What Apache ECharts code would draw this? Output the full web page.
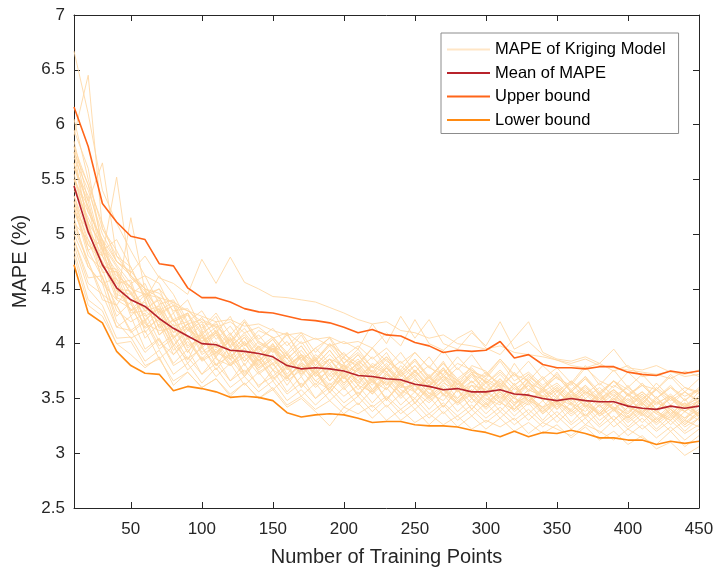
<!DOCTYPE html>
<html><head><meta charset="utf-8">
<script src="https://cdn.jsdelivr.net/npm/echarts@6/dist/echarts.min.js"></script>
<style>html,body{margin:0;padding:0;background:#fff}#c{width:716px;height:575px}</style>
</head><body><div id="c"></div>
<script>
const xCategories = [10,20,30,40,50,60,70,80,90,100,110,120,130,140,150,160,170,180,190,200,210,220,230,240,250,260,270,280,290,300,310,320,330,340,350,360,370,380,390,400,410,420,430,440,450];
const xTickLabels = [50,100,150,200,250,300,350,400,450];
const yTickLabels = [2.5,3,3.5,4,4.5,5,5.5,6,6.5,7];

const meanMAPE = [5.44,5.02,4.72,4.51,4.40,4.34,4.23,4.14,4.07,4.00,3.99,3.94,3.93,3.91,3.88,3.80,3.77,3.78,3.77,3.75,3.71,3.70,3.68,3.67,3.63,3.61,3.58,3.59,3.56,3.56,3.58,3.54,3.53,3.50,3.48,3.50,3.48,3.47,3.47,3.43,3.41,3.40,3.43,3.41,3.43];
const upperBound = [6.16,5.80,5.28,5.11,4.98,4.95,4.73,4.71,4.51,4.42,4.42,4.38,4.32,4.29,4.28,4.25,4.22,4.21,4.19,4.15,4.10,4.13,4.08,4.07,4.01,3.98,3.92,3.94,3.93,3.94,4.02,3.87,3.90,3.81,3.78,3.78,3.77,3.79,3.79,3.74,3.72,3.71,3.75,3.73,3.75];
const lowerBound = [4.72,4.28,4.19,3.93,3.80,3.73,3.72,3.57,3.61,3.59,3.56,3.51,3.52,3.51,3.48,3.37,3.33,3.35,3.36,3.35,3.32,3.28,3.29,3.29,3.26,3.25,3.25,3.24,3.21,3.19,3.15,3.20,3.15,3.19,3.18,3.21,3.18,3.14,3.14,3.12,3.12,3.08,3.11,3.09,3.11];

const run01 = [6.67,6.10,5.40,5.10,4.85,4.62,4.55,4.28,4.40,4.12,4.25,3.98,4.20,4.02,3.92,4.10,3.85,3.96,4.05,3.82,3.95,3.78,3.92,3.70,3.86,3.68,3.84,3.62,3.80,3.75,3.60,3.82,3.64,3.58,3.74,3.56,3.70,3.52,3.66,3.58,3.48,3.64,3.50,3.60,3.54];
const run02 = [5.90,6.45,5.05,4.85,4.60,4.48,4.30,4.38,4.12,4.20,3.96,4.10,3.88,4.02,3.95,3.78,3.90,3.72,3.86,3.80,3.66,3.82,3.74,3.60,3.76,3.58,3.70,3.64,3.52,3.68,3.60,3.50,3.66,3.48,3.58,3.44,3.56,3.50,3.40,3.54,3.46,3.36,3.52,3.42,3.48];
const run03 = [5.60,5.30,5.65,4.80,4.70,4.42,4.50,4.20,4.28,3.98,4.10,3.92,4.06,3.84,3.98,3.90,3.72,3.88,3.66,3.80,3.74,3.62,3.78,3.68,3.56,3.70,3.58,3.50,3.66,3.54,3.62,3.46,3.58,3.52,3.42,3.56,3.48,3.38,3.52,3.44,3.36,3.50,3.40,3.32,3.46];
const run04 = [5.20,4.90,4.80,5.52,4.62,4.50,4.28,4.35,4.05,4.18,3.90,4.08,3.96,3.82,4.00,3.76,3.88,3.70,3.82,3.64,3.78,3.66,3.58,3.74,3.62,3.52,3.68,3.56,3.62,3.48,3.60,3.50,3.44,3.58,3.46,3.40,3.54,3.42,3.50,3.36,3.48,3.38,3.30,3.44,3.36];
const run05 = [5.00,4.70,4.55,4.40,5.15,4.48,4.22,4.05,4.18,3.92,4.02,3.85,3.96,3.78,3.90,3.70,3.82,3.76,3.62,3.74,3.58,3.70,3.64,3.52,3.68,3.55,3.48,3.64,3.50,3.42,3.58,3.46,3.52,3.38,3.50,3.44,3.34,3.48,3.40,3.32,3.46,3.36,3.30,3.42,3.34];
const run06 = [5.70,5.40,5.00,4.75,4.65,4.80,4.60,4.55,4.45,4.77,4.55,4.79,4.56,4.50,4.43,4.42,4.40,4.38,4.33,4.28,4.22,4.18,4.20,4.12,4.10,4.05,4.08,4.00,3.98,3.95,3.98,3.92,3.90,3.88,3.85,3.82,3.86,3.80,3.78,3.76,3.74,3.72,3.75,3.70,3.72];
const run07 = [5.50,5.10,4.90,4.70,4.50,4.45,4.50,4.35,4.30,4.20,4.15,4.20,4.10,4.15,4.05,4.10,4.00,4.05,3.98,4.02,3.95,4.18,4.00,4.25,4.05,4.22,4.00,3.95,4.10,3.98,4.20,3.95,4.02,3.90,3.85,3.80,3.78,3.82,3.75,3.80,3.70,3.72,3.68,3.75,3.70];
const run08 = [5.35,4.90,4.75,4.45,4.40,4.15,4.30,3.98,4.15,3.90,3.98,3.80,3.92,3.76,3.88,3.68,3.82,3.62,3.78,3.64,3.76,3.58,3.70,3.55,3.66,3.52,3.62,3.48,3.58,3.46,3.56,3.44,3.54,3.40,3.52,3.38,3.50,3.36,3.46,3.34,3.44,3.30,3.42,3.32,3.40];
const run09 = [4.80,4.35,4.25,4.00,3.90,3.78,3.88,3.62,3.74,3.60,3.68,3.52,3.64,3.50,3.58,3.42,3.50,3.38,3.25,3.42,3.36,3.44,3.30,3.40,3.28,3.36,3.26,3.34,3.22,3.30,3.24,3.32,3.18,3.28,3.22,3.16,3.26,3.20,3.12,3.22,3.14,3.08,3.20,3.06,3.16];
const run10 = [5.10,4.75,4.45,4.35,4.12,4.22,3.98,4.08,3.86,3.96,3.80,3.90,3.74,3.86,3.68,3.78,3.62,3.74,3.60,3.70,3.54,3.66,3.50,3.62,3.56,3.46,3.58,3.44,3.54,3.40,3.52,3.38,3.48,3.36,3.46,3.34,3.44,3.30,3.40,3.28,3.38,3.26,3.36,3.24,3.32];
const run11 = [5.80,5.20,4.95,4.58,4.52,4.32,4.40,4.10,4.28,4.00,4.12,3.92,4.06,3.88,4.00,3.82,3.94,3.78,3.90,3.76,3.86,3.70,3.82,3.66,3.80,3.64,3.76,3.60,3.72,3.66,3.58,3.74,3.56,3.68,3.52,3.64,3.50,3.60,3.48,3.62,3.46,3.58,3.44,3.56,3.48];
const run12 = [5.25,4.85,4.60,4.35,4.55,4.10,4.25,4.00,3.85,4.10,3.80,3.98,3.72,3.90,3.70,3.82,3.60,3.78,3.55,3.72,3.52,3.70,3.48,3.66,3.45,3.62,3.42,3.58,3.40,3.56,3.46,3.40,3.55,3.36,3.48,3.52,3.34,3.44,3.30,3.42,3.36,3.28,3.40,3.26,3.38];
const run13 = [5.55,5.05,4.70,4.55,4.30,4.38,4.08,4.22,3.96,4.06,3.92,4.02,3.84,3.96,3.80,3.90,3.72,3.84,3.70,3.80,3.64,3.76,3.62,3.72,3.58,3.70,3.54,3.66,3.52,3.64,3.50,3.62,3.48,3.58,3.46,3.56,3.42,3.54,3.40,3.50,3.38,3.48,3.36,3.46,3.34];
const run14 = [4.95,4.55,4.45,4.15,4.12,3.92,4.04,3.80,3.88,3.72,3.82,3.66,3.76,3.62,3.70,3.54,3.64,3.50,3.60,3.46,3.56,3.42,3.52,3.40,3.50,3.36,3.46,3.34,3.44,3.32,3.42,3.30,3.40,3.28,3.38,3.26,3.36,3.24,3.34,3.22,3.32,3.20,3.30,3.18,3.26];
const run15 = [5.40,5.15,4.85,4.48,4.45,4.25,4.32,4.05,4.15,4.02,4.10,3.88,4.00,3.84,3.96,3.80,3.88,3.72,3.86,3.68,3.80,3.64,3.78,3.62,3.72,3.58,3.70,3.56,3.66,3.52,3.64,3.50,3.62,3.48,3.58,3.46,3.56,3.44,3.54,3.42,3.52,3.40,3.50,3.38,3.48];
const run16 = [6.05,5.50,5.05,4.80,4.62,4.45,4.42,4.22,4.28,4.10,4.18,4.02,4.14,3.96,4.06,3.90,4.02,3.84,3.98,3.82,3.92,3.78,3.88,3.74,3.86,3.70,3.82,3.68,3.78,3.64,3.76,3.62,3.72,3.60,3.70,3.56,3.68,3.54,3.66,3.52,3.62,3.50,3.60,3.48,3.58];
const run17 = [5.15,4.70,4.55,4.15,4.25,3.95,4.05,3.82,3.95,3.72,3.88,3.66,3.82,3.60,3.76,3.56,3.70,3.50,3.64,3.52,3.62,3.46,3.60,3.44,3.56,3.40,3.54,3.38,3.50,3.36,3.48,3.34,3.46,3.30,3.45,3.28,3.42,3.26,3.40,3.24,3.36,3.22,3.34,3.20,3.32];
const run18 = [5.65,5.25,4.90,4.55,4.58,4.20,4.36,4.06,4.18,3.98,4.10,3.92,4.02,3.88,3.98,3.80,3.90,3.78,3.86,3.72,3.82,3.68,3.78,3.64,3.74,3.62,3.70,3.58,3.72,3.56,3.66,3.54,3.62,3.50,3.60,3.48,3.58,3.46,3.56,3.44,3.54,3.40,3.50,3.38,3.46];
const run19 = [5.30,4.95,4.75,4.40,4.32,4.14,4.22,3.94,4.06,3.86,4.00,3.82,3.92,3.78,3.86,3.70,3.80,3.66,3.76,3.60,3.72,3.56,3.68,3.54,3.64,3.50,3.60,3.46,3.58,3.44,3.56,3.40,3.52,3.42,3.48,3.38,3.50,3.34,3.46,3.32,3.42,3.30,3.40,3.28,3.38];
const run20 = [5.75,5.45,5.10,4.75,4.66,4.50,4.46,4.30,4.32,4.14,4.28,4.08,4.22,4.04,4.14,3.98,4.10,3.92,4.06,3.88,3.98,3.86,3.96,3.82,3.92,3.78,3.94,3.76,3.90,3.72,3.86,3.70,3.84,3.68,3.78,3.64,3.80,3.62,3.76,3.60,3.72,3.58,3.70,3.56,3.68];
const run21 = [4.90,4.50,4.35,4.05,4.06,3.84,3.94,3.72,3.82,3.64,3.78,3.60,3.70,3.56,3.66,3.48,3.58,3.44,3.56,3.42,3.52,3.38,3.50,3.36,3.46,3.32,3.44,3.30,3.40,3.28,3.38,3.26,3.36,3.24,3.34,3.22,3.32,3.18,3.30,3.16,3.26,3.14,3.24,3.12,3.22];
const run22 = [5.45,5.10,4.55,4.60,4.25,4.40,4.08,4.18,3.92,4.12,3.88,4.05,3.80,3.98,3.76,3.90,3.70,3.86,3.66,3.82,3.62,3.80,3.58,3.76,3.56,3.72,3.52,3.68,3.50,3.66,3.48,3.64,3.46,3.60,3.44,3.58,3.42,3.56,3.38,3.54,3.36,3.52,3.34,3.50,3.32];
const run23 = [5.20,5.05,4.65,4.66,4.38,4.46,4.14,4.22,4.04,4.08,3.92,4.06,3.84,3.98,3.82,3.92,3.76,3.86,3.72,3.88,3.70,3.80,3.72,3.64,3.76,3.62,3.78,3.58,3.74,3.54,3.68,3.52,3.66,3.50,3.60,3.48,3.62,3.46,3.58,3.42,3.54,3.40,3.52,3.38,3.48];
const run24 = [4.85,4.40,4.30,4.00,4.02,3.80,3.86,3.66,3.74,3.60,3.68,3.54,3.64,3.50,3.60,3.44,3.52,3.40,3.48,3.36,3.46,3.32,3.44,3.30,3.40,3.26,3.38,3.24,3.34,3.22,3.32,3.20,3.28,3.18,3.26,3.14,3.24,3.12,3.20,3.08,3.16,3.04,3.10,2.98,3.06];
const run25 = [5.60,5.35,4.85,4.66,4.46,4.30,4.34,4.16,4.20,4.02,4.12,3.98,4.08,3.92,4.04,3.86,3.98,3.80,3.94,3.78,3.90,3.74,3.88,3.72,3.84,3.68,3.82,3.66,3.76,3.64,3.74,3.62,3.72,3.58,3.70,3.56,3.68,3.54,3.66,3.52,3.64,3.50,3.62,3.48,3.60];
const run26 = [5.05,4.75,4.40,4.35,4.10,4.20,3.95,4.05,3.82,3.98,3.76,3.92,3.70,3.86,3.66,3.80,3.60,3.74,3.56,3.70,3.52,3.68,3.48,3.64,3.46,3.60,3.42,3.58,3.40,3.54,3.38,3.52,3.36,3.48,3.34,3.46,3.32,3.44,3.30,3.42,3.28,3.40,3.26,3.38,3.30];
const run27 = [5.50,5.20,4.95,4.75,4.62,4.50,4.42,4.38,4.30,4.25,4.20,4.22,4.16,4.18,4.12,4.08,4.10,4.04,4.06,4.00,4.02,3.96,4.10,3.98,4.22,4.00,3.94,4.05,4.12,3.96,3.90,4.05,4.20,3.92,3.86,3.84,3.88,3.82,3.95,3.78,3.76,3.80,3.74,3.72,3.76];
const run28 = [5.85,5.30,4.80,4.50,4.48,4.22,4.32,4.10,4.18,3.96,4.08,3.88,4.00,3.84,3.96,3.78,3.90,3.74,3.86,3.70,3.82,3.66,3.80,3.64,3.74,3.62,3.72,3.58,3.70,3.56,3.68,3.54,3.64,3.52,3.62,3.50,3.60,3.48,3.58,3.46,3.56,3.44,3.54,3.42,3.52];
const run29 = [5.30,4.85,4.95,4.50,4.30,4.45,4.15,4.28,3.98,4.05,4.15,3.86,4.02,3.80,3.95,3.72,3.88,3.70,3.80,3.62,3.78,3.58,3.74,3.62,3.70,3.54,3.66,3.50,3.62,3.58,3.46,3.60,3.48,3.56,3.40,3.52,3.44,3.36,3.50,3.38,3.46,3.32,3.44,3.38,3.48];
const run30 = [5.95,5.60,4.85,4.95,4.70,4.40,4.62,4.45,4.20,4.30,4.10,4.25,3.98,4.12,4.06,3.92,4.08,3.86,4.00,3.90,3.82,3.96,3.78,3.92,3.74,3.88,3.70,3.82,3.76,3.68,3.84,3.66,3.74,3.62,3.72,3.58,3.70,3.56,3.66,3.54,3.62,3.50,3.60,3.52,3.58];
const run31 = [5.10,4.95,4.60,4.25,4.38,4.05,4.18,3.90,4.02,3.85,3.95,3.80,3.88,3.72,3.82,3.66,3.76,3.60,3.72,3.58,3.70,3.54,3.66,3.50,3.62,3.48,3.58,3.46,3.55,3.42,3.54,3.40,3.50,3.38,3.48,3.36,3.46,3.34,3.42,3.30,3.40,3.28,3.38,3.26,3.36];
const run32 = [5.75,5.05,4.80,4.62,4.52,4.30,4.42,4.20,4.26,4.08,4.20,3.96,4.10,3.94,4.04,3.86,3.98,3.80,3.94,3.76,3.90,3.72,3.86,3.70,3.80,3.66,3.78,3.62,3.74,3.60,3.72,3.58,3.68,3.56,3.64,3.52,3.62,3.50,3.58,3.48,3.56,3.46,3.52,3.44,3.50];
const run33 = [4.95,4.60,4.62,4.20,4.05,4.12,3.86,3.98,3.76,3.88,3.70,3.82,3.62,3.74,3.58,3.70,3.52,3.64,3.48,3.60,3.44,3.58,3.42,3.54,3.40,3.52,3.36,3.48,3.34,3.46,3.32,3.44,3.30,3.42,3.28,3.40,3.26,3.38,3.24,3.34,3.22,3.32,3.20,3.30,3.24];
const run34 = [5.50,5.25,4.70,4.68,4.45,4.55,4.26,4.35,4.12,4.24,4.04,4.16,3.98,4.08,3.92,4.02,3.84,3.96,3.82,3.92,3.76,3.88,3.74,3.84,3.70,3.80,3.66,3.78,3.64,3.74,3.62,3.72,3.58,3.70,3.56,3.66,3.54,3.64,3.52,3.60,3.50,3.58,3.48,3.56,3.46];
const run35 = [5.35,5.00,4.88,4.42,4.36,4.18,4.12,4.14,3.92,4.08,3.86,3.80,3.96,3.74,3.82,3.62,3.80,3.74,3.58,3.78,3.66,3.54,3.72,3.60,3.62,3.50,3.64,3.58,3.46,3.60,3.56,3.44,3.58,3.52,3.40,3.54,3.46,3.36,3.50,3.44,3.34,3.46,3.40,3.30,3.44];
const run36 = [5.65,5.10,4.72,4.65,4.28,4.30,4.20,3.98,4.12,4.06,3.88,4.04,3.92,3.80,3.96,3.86,3.74,3.90,3.80,3.68,3.84,3.74,3.62,3.80,3.68,3.60,3.76,3.66,3.56,3.72,3.64,3.54,3.70,3.60,3.50,3.66,3.56,3.48,3.62,3.54,3.44,3.60,3.50,3.42,3.56];
const run37 = [5.25,4.80,4.68,4.30,4.20,4.28,4.02,3.90,4.05,3.84,3.92,3.86,3.70,3.88,3.76,3.68,3.84,3.66,3.58,3.76,3.62,3.56,3.72,3.58,3.50,3.66,3.54,3.46,3.62,3.50,3.44,3.60,3.48,3.42,3.56,3.46,3.38,3.52,3.42,3.36,3.50,3.38,3.32,3.46,3.36];
const run38 = [5.80,5.45,4.92,4.72,4.55,4.62,4.36,4.40,4.18,4.22,4.16,4.02,4.20,4.00,3.94,4.08,3.90,3.84,4.00,3.86,3.80,3.96,3.84,3.76,3.92,3.78,3.72,3.88,3.74,3.70,3.86,3.72,3.66,3.80,3.68,3.62,3.78,3.66,3.60,3.74,3.62,3.58,3.72,3.60,3.56];

const runs = [run01,run02,run03,run04,run05,run06,run07,run08,run09,run10,run11,run12,run13,run14,run15,run16,run17,run18,run19,run20,run21,run22,run23,run24,run25,run26,run27,run28,run29,run30,run31,run32,run33,run34,run35,run36,run37,run38];

const FONT = '"Liberation Sans", Arial, sans-serif';
const AX = '#262626';
const pair = a => xCategories.map((x, i) => [x, a[i]]);

const series = runs.map(r => ({
  name: 'MAPE of Kriging Model', type: 'line', data: pair(r),
  symbol: 'none', silent: true, animation: false,
  lineStyle: { color: '#FFD7A2', width: 1, opacity: 0.85 },
  itemStyle: { color: '#FFE6C6' }, z: 1
}));
series.push({ name: 'Mean of MAPE', type: 'line', data: pair(meanMAPE), symbol: 'none', animation: false,
  lineStyle: { color: '#B8232B', width: 1.6 }, itemStyle: { color: '#B8232B' }, z: 5 });
series.push({ name: 'Upper bound', type: 'line', data: pair(upperBound), symbol: 'none', animation: false,
  lineStyle: { color: '#FF6519', width: 1.6 }, itemStyle: { color: '#FF6519' }, z: 5 });
series.push({ name: 'Lower bound', type: 'line', data: pair(lowerBound), symbol: 'none', animation: false,
  lineStyle: { color: '#FF8A12', width: 1.6 }, itemStyle: { color: '#FF8A12' }, z: 5 });

const xBase = {
  type: 'value', min: 10, max: 450,
  axisLine: { show: true, onZero: false, lineStyle: { color: AX, width: 1 } },
  axisTick: { show: true, inside: true, length: 6, lineStyle: { color: AX }, customValues: xTickLabels },
  splitLine: { show: false }
};
const yBase = {
  type: 'value', min: 2.5, max: 7, interval: 0.5,
  axisLine: { show: true, onZero: false, lineStyle: { color: AX, width: 1 } },
  axisTick: { show: true, inside: true, length: 6, lineStyle: { color: AX } },
  splitLine: { show: false }
};

const option = {
  backgroundColor: '#fff',
  animation: false,
  grid: { left: 74, right: 17, top: 15, bottom: 67, containLabel: false, outerBoundsMode: 'none' },
  legend: {
    data: ['MAPE of Kriging Model', 'Mean of MAPE', 'Upper bound', 'Lower bound'],
    orient: 'vertical', left: 441, top: 33,
    backgroundColor: '#fff', borderColor: '#8c8c8c', borderWidth: 1,
    padding: [8, 13, 5, 6], itemGap: 6.5,
    itemWidth: 43, itemHeight: 2, icon: 'rect',
    textStyle: { fontFamily: FONT, fontSize: 16.5, color: '#000' }
  },
  xAxis: [
    Object.assign({}, xBase, {
      position: 'bottom',
      name: 'Number of Training Points', nameLocation: 'middle', nameGap: 39,
      nameTextStyle: { fontFamily: FONT, fontSize: 20, color: AX },
      axisLabel: { fontFamily: FONT, fontSize: 17, color: AX, margin: 13, customValues: xTickLabels }
    }),
    Object.assign({}, xBase, { position: 'top', axisLabel: { show: false } })
  ],
  yAxis: [
    Object.assign({}, yBase, {
      position: 'left',
      name: 'MAPE (%)', nameLocation: 'middle', nameGap: 43,
      nameTextStyle: { fontFamily: FONT, fontSize: 20, color: AX },
      axisLabel: { fontFamily: FONT, fontSize: 17, color: AX, margin: 9,
        formatter: v => String(Math.round(v * 10) / 10) }
    }),
    Object.assign({}, yBase, { position: 'right', axisLabel: { show: false } })
  ],
  series: series
};

const chart = echarts.init(document.getElementById('c'), null, { renderer: 'canvas' });
chart.setOption(option);
</script>
</body></html>
